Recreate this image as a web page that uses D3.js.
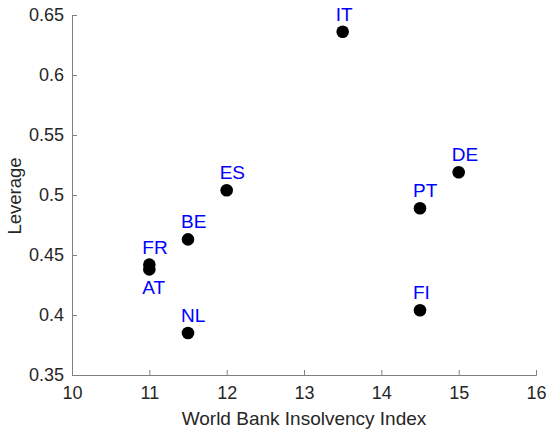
<!DOCTYPE html>
<html>
<head>
<meta charset="utf-8">
<script src="https://cdn.jsdelivr.net/npm/d3@7"></script>
<style>
  body { margin: 0; background: white; }
  text { font-family: "Liberation Sans", Arial, sans-serif; }
</style>
</head>
<body>
<div id="chart"></div>
<script>
// data
const countries = ["IT", "DE", "PT", "FI", "ES", "BE", "FR", "AT", "NL"];
const insolvency = [13.5, 15, 14.5, 14.5, 12, 11.5, 11, 11, 11.5];
const leverage = [0.636, 0.519, 0.489, 0.404, 0.504, 0.463, 0.442, 0.438, 0.385];
const labelBelow = ["AT"];
const xTicks = [10, 11, 12, 13, 14, 15, 16];
const yTicks = [0.35, 0.4, 0.45, 0.5, 0.55, 0.6, 0.65];

const config = {
  width  : 549,
  height : 429,
  margin : { top: 15, right: 13, bottom: 54, left: 72 },
  axisColor : "#808080",
  textColor : "#262626",
  labelColor: "#0000ff"
};

const points = countries.map(function(c, i) {
  return { name: c, x: insolvency[i], y: leverage[i] };
});

const svg = d3.select("#chart")
  .append("svg")
    .attr("width", config.width)
    .attr("height", config.height);

const w = config.width - config.margin.left - config.margin.right;
const h = config.height - config.margin.top - config.margin.bottom;

const g = svg.append("g")
  .attr("transform", "translate(" + config.margin.left + "," + config.margin.top + ")");

const x = d3.scaleLinear().domain([10, 16]).range([0, w]);
const y = d3.scaleLinear().domain([0.35, 0.65]).range([h, 0]);

// axes, matlab style: ticks pointing inwards
const xAxis = g.append("g")
  .attr("transform", "translate(0," + h + ")")
  .call(d3.axisBottom(x).tickValues(xTicks).tickSize(-5).tickPadding(11).tickFormat(d3.format("d")));

const yAxis = g.append("g")
  .call(d3.axisLeft(y).tickValues(yTicks).tickSize(-5).tickPadding(8).tickFormat(function(d) { return String(+d.toFixed(2)); }));

[xAxis, yAxis].forEach(function(a) {
  a.select(".domain").attr("stroke", config.axisColor);
  a.selectAll(".tick line").attr("stroke", config.axisColor);
  a.selectAll(".tick text")
    .attr("fill", config.textColor)
    .style("font-size", "18px");
});

// axis titles
g.append("text")
  .attr("x", w / 2)
  .attr("y", h + 50)
  .attr("text-anchor", "middle")
  .attr("fill", config.textColor)
  .style("font-size", "19px")
  .text("World Bank Insolvency Index");

g.append("text")
  .attr("transform", "translate(" + (-51) + "," + (h / 2 + 1) + ") rotate(-90)")
  .attr("text-anchor", "middle")
  .attr("fill", config.textColor)
  .style("font-size", "18.5px")
  .text("Leverage");

// dots
g.selectAll(".dot")
  .data(points)
  .enter()
  .append("circle")
    .attr("class", "dot")
    .attr("cx", function(d) { return x(d.x); })
    .attr("cy", function(d) { return y(d.y); })
    .attr("r", 6.3)
    .attr("fill", "black");

// country labels, left aligned just left of the dot
g.selectAll(".lbl")
  .data(points)
  .enter()
  .append("text")
    .attr("class", "lbl")
    .attr("x", function(d) { return x(d.x) - 7; })
    .attr("y", function(d) { return labelBelow.includes(d.name) ? y(d.y) + 25 : y(d.y) - 11; })
    .attr("fill", config.labelColor)
    .style("font-size", "19px")
    .text(function(d) { return d.name; });
</script>
</body>
</html>
